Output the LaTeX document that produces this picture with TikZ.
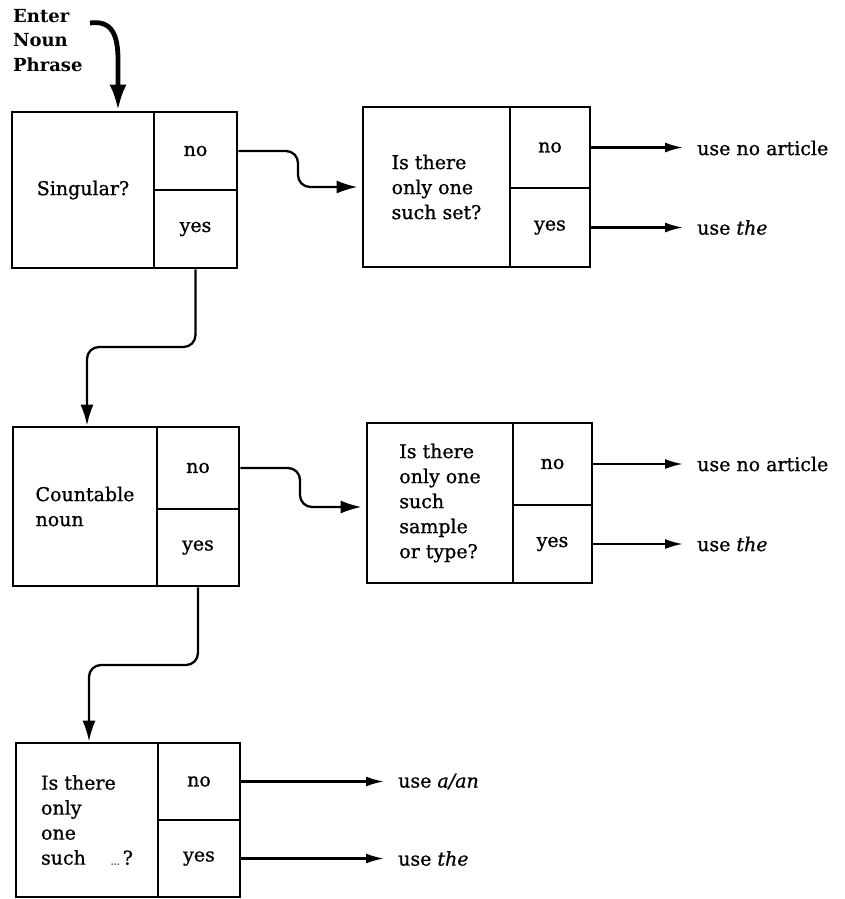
\documentclass[tikz,border=0pt]{standalone}
\usepackage{fontspec}
\setmainfont{DejaVu Serif}[UprightFeatures={FakeBold=0.9},ItalicFeatures={FakeBold=0.9}]
\usetikzlibrary{arrows.meta}
\tikzset{
  qcell/.style={draw, line width=2.8pt, inner sep=0pt, align=left, font=\fontsize{19}{25}\selectfont},
  acell/.style={draw, line width=2.8pt, inner sep=0pt, font=\fontsize{19}{25}\selectfont},
  outtext/.style={anchor=west, inner sep=0pt, font=\fontsize{19}{25}\selectfont},
  conn/.style={line width=2.3pt, rounded corners=12pt, -{Latex[length=21pt,width=13pt]}},
  outarrow/.style={line width=2.2pt, -{Latex[length=18pt,width=10pt]}, shorten >=14pt},
}
\begin{document}
\begin{tikzpicture}[x=1pt,y=-1pt]
\useasboundingbox (0,0) rectangle (844,899);
% Enter
\node[anchor=north west, inner sep=0pt, align=left, font=\fontsize{18}{24.5}\selectfont\bfseries] (ent) at (13,9) {Enter\\Noun\\Phrase};
\coordinate (es) at (90,23);
% Box 1
\node[qcell, minimum width=142pt, minimum height=156pt] (q1) at (83,190) {Singular?};
\node[acell, minimum width=83pt, minimum height=78pt] (n1) at (195.5,151) {no};
\node[acell, minimum width=83pt, minimum height=78pt] (y1) at (195.5,229) {yes};
% Box 2
\node[qcell, minimum width=147pt, minimum height=160pt] (q2) at (436.5,187) {Is there\\only one\\such set?};
\node[acell, minimum width=80pt, minimum height=81pt] (n2) at (550,147.5) {no};
\node[acell, minimum width=80pt, minimum height=79pt] (y2) at (550,227.5) {yes};
% Box 3
\node[qcell, minimum width=144pt, minimum height=159pt] (q3) at (85,506.5) {Countable\\noun\hspace*{2em}};
\node[acell, minimum width=82pt, minimum height=82pt] (n3) at (198,468) {no};
\node[acell, minimum width=82pt, minimum height=77pt] (y3) at (198,547.5) {yes};
% Box 4
\node[qcell, minimum width=146pt, minimum height=160pt] (q4) at (440,503) {Is there\\only one\\such\\sample\\or type?};
\node[acell, minimum width=79pt, minimum height=82pt] (n4) at (552.5,464) {no};
\node[acell, minimum width=79pt, minimum height=78pt] (y4) at (552.5,544) {yes};
% Box 5
\node[qcell, minimum width=142pt, minimum height=154pt] (q5) at (87,820) {Is there\\only\\one\\such\hspace{1.3em}{\fontsize{9}{9}\selectfont\dots}\,?};
\node[acell, minimum width=82pt, minimum height=77pt] (n5) at (199,781.5) {no};
\node[acell, minimum width=82pt, minimum height=77pt] (y5) at (199,858.5) {yes};
% outputs
\node[outtext] (o2n) at (697,148) {use no article};
\node[outtext] (o2y) at (697,227.5) {use \textit{the}};
\node[outtext] (o4n) at (697,464) {use no article};
\node[outtext] (o4y) at (697,544) {use \textit{the}};
\node[outtext] (o5n) at (398,781.5) {use \textit{a/an}};
\node[outtext] (o5y) at (398,858.5) {use \textit{the}};
% Enter arrow
\draw[line width=4.8pt, -{Latex[length=26pt,width=17pt]}] (es) .. controls (112,20) and (118,35) .. (118,60) -- ([xshift=35pt]q1.north);
% connectors
\draw[conn, shorten >=4pt] (n1.east) -- (298,151) -- (298,187) -- (q2.west);
\draw[conn, shorten >=4pt] (n3.east) -- (300,468) -- (300,507) -- ([yshift=-4pt]q4.west);
\draw[conn] (y1.south) -- (195.5,347) -- (87,347) -- ([xshift=2pt]q3.north);
\draw[conn] (y3.south) -- (198,665) -- (89,665) -- ([xshift=2pt]q5.north);
% outputs arrows
\draw[outarrow] (n2.east) -- (n2.east -| o2n.west);
\draw[outarrow] (y2.east) -- (y2.east -| o2y.west);
\draw[outarrow] (n4.east) -- (n4.east -| o4n.west);
\draw[outarrow] (y4.east) -- (y4.east -| o4y.west);
\draw[outarrow] (n5.east) -- (n5.east -| o5n.west);
\draw[outarrow] (y5.east) -- (y5.east -| o5y.west);
\end{tikzpicture}
\end{document}
